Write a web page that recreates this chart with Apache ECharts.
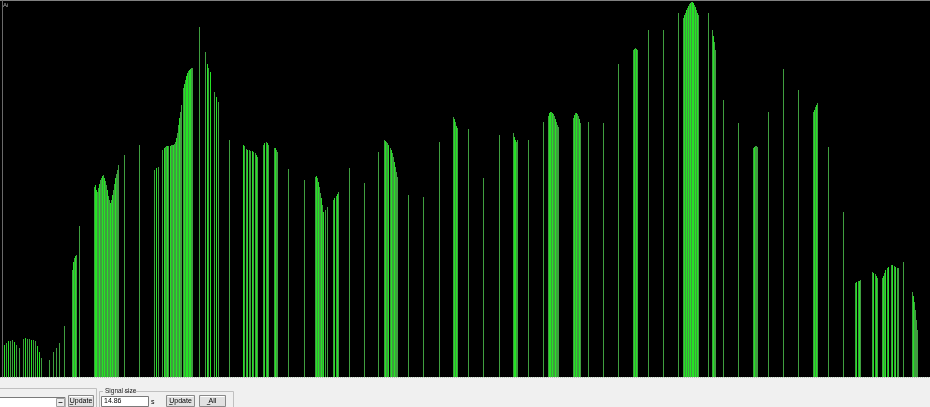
<!DOCTYPE html>
<html>
<head>
<meta charset="utf-8">
<script src="https://cdn.jsdelivr.net/npm/echarts@6/dist/echarts.min.js"></script>
<style>
html,body{margin:0;padding:0;background:#f0f0f0;}
#chart{width:930px;height:407px;}
</style>
</head>
<body>
<div id="chart"></div>
<script>
// Bright signal lines: sample positions and amplitudes
const brightX = [4,8,14,25,31,37,39,73,75,95,96,99,102,104,107,110,112,115,156,164,167,170,173,176,179,184,186,187,189,190,207,210,216,243,247,252,256,264,267,275,316,318,321,323,334,337,385,388,391,394,454,456,514,515,549,550,552,555,574,576,579,634,636,684,686,688,690,692,693,695,697,713,754,814,816,856,859,873,876,883,885,888,892,895,913];
const brightH = [32,36,35,39,37,31,25,115,121,192,187,193,201,199,187,174,182,199,209,229,231,231,232,239,259,293,301,304,307,308,313,305,280,232,227,226,222,234,234,229,201,195,179,165,179,183,236,232,227,215,258,251,240,237,264,265,264,258,262,264,258,328,328,362,367,371,374,375,374,370,364,341,230,267,272,95,96,104,101,101,107,110,112,110,81];
// Dim signal lines
const dimX = [2,6,10,12,16,19,23,27,29,33,35,41,49,53,56,59,64,72,74,76,79,94,97,98,100,101,103,105,106,108,109,111,113,114,116,117,118,124,139,154,158,162,165,166,168,171,172,174,175,177,178,180,181,183,185,188,191,192,199,205,208,214,218,229,244,246,249,250,253,255,257,263,266,268,274,276,277,288,304,315,317,319,320,322,325,327,333,336,338,349,364,378,384,386,387,390,392,393,395,396,397,408,423,439,453,455,457,468,483,499,513,516,517,528,543,548,551,553,554,556,557,558,573,575,577,578,580,588,603,618,633,635,637,648,663,678,683,685,687,689,691,694,696,698,708,712,714,715,723,738,753,755,756,757,768,783,798,813,815,817,828,843,855,858,860,872,875,877,882,884,887,891,894,897,898,903,912,914,915,916,917];
const dimH = [30,34,36,37,32,29,38,38,38,37,36,19,17,25,29,34,51,107,119,122,151,190,185,189,197,199,202,196,192,181,177,177,187,193,203,207,212,222,232,207,210,227,230,231,231,232,232,233,235,244,252,265,272,289,297,306,309,309,350,325,309,285,275,237,231,228,227,226,225,224,220,232,235,232,229,227,225,208,197,200,199,190,184,172,167,170,177,181,185,209,194,225,237,235,234,229,224,220,210,205,200,182,180,235,260,255,249,248,199,242,244,235,237,237,255,261,265,263,261,255,252,250,259,264,263,261,254,255,254,313,327,329,327,347,347,364,359,364,369,373,375,372,367,362,364,347,335,327,277,254,229,231,231,230,265,308,287,265,270,274,230,165,94,96,97,105,103,99,99,104,109,112,111,109,109,115,85,75,67,57,47];

const signalSize = '14.86';

function pairs(xs, hs){ return xs.map((x,i)=>[x, hs[i]]); }
function lineRenderer(color){
  return function(params, api){
    const x = api.value(0), h = api.value(1);
    const top = api.coord([x, h]);
    const bot = api.coord([x, 0]);
    return {type:'rect', shape:{x: top[0]-0.5, y: top[1], width: 1, height: bot[1]-top[1]}, style:{fill: color}};
  };
}

const chart = echarts.init(document.getElementById('chart'), null, {renderer:'canvas'});
const font = 'Liberation Sans, Arial, sans-serif';
function button(x, y, w, h, label){
  return [
    {type:'rect', shape:{x:x, y:y, width:w, height:h}, style:{fill:'#e1e1e1', stroke:'#8a8a8a', lineWidth:1}, z:10},
    {type:'line', shape:{x1:x+1, y1:y+1, x2:x+w-1, y2:y+1}, style:{stroke:'#ffffff'}, z:11},
    {type:'text', x:x+w/2, y:y+h/2, style:{text:label, fill:'#000', font:'7px '+font, align:'center', verticalAlign:'middle'}, z:12},
    {type:'line', shape:{x1:x+w/2-label.length*1.9, y1:y+h/2+3.5, x2:x+w/2-label.length*1.9+3.5, y2:y+h/2+3.5}, style:{stroke:'#000', lineWidth:0.6}, z:12}
  ];
}
const graphics = [
  {type:'rect', shape:{x:0, y:378, width:930, height:29}, style:{fill:'#f0f0f0'}, z:5},
  {type:'line', shape:{x1:0, y1:377.5, x2:930, y2:377.5}, style:{stroke:'#b8c8b8', lineWidth:1, lineDash:[1,1]}, z:6},
  {type:'line', shape:{x1:0, y1:0.5, x2:930, y2:0.5}, style:{stroke:'#808080', lineWidth:1}, z:6},
  {type:'line', shape:{x1:2.5, y1:0, x2:2.5, y2:377}, style:{stroke:'#6a6a6a', lineWidth:1}, z:6},
  {type:'text', x:3, y:2, style:{text:'Ai', fill:'#b0b0b0', font:'6px '+font}, z:6},
  // left group frame
  {type:'polyline', shape:{points:[[0,388.5],[96.5,388.5],[96.5,407]]}, style:{stroke:'#c0c0c0', fill:null, lineWidth:1}, z:6},
  // combo box
  {type:'rect', shape:{x:-1, y:397.5, width:66, height:11}, style:{fill:'#ffffff', stroke:'#7a7a7a', lineWidth:1}, z:7},
  {type:'rect', shape:{x:56.5, y:398.5, width:8, height:8}, style:{fill:'#ececec', stroke:'#a0a0a0', lineWidth:1}, z:8},
  {type:'line', shape:{x1:58.5, y1:402.5, x2:62.5, y2:402.5}, style:{stroke:'#404040', lineWidth:1}, z:9},
  // signal size group
  {type:'polyline', shape:{points:[[103,391.5],[99.5,391.5],[99.5,407]]}, style:{stroke:'#c0c0c0', fill:null, lineWidth:1}, z:6},
  {type:'polyline', shape:{points:[[124,391.5],[233.5,391.5],[233.5,407]]}, style:{stroke:'#c0c0c0', fill:null, lineWidth:1}, z:6},
  {type:'text', x:105, y:388, style:{text:'Signal size', fill:'#202020', font:'6.5px '+font}, z:7},
  {type:'rect', shape:{x:101.5, y:396.5, width:47, height:10}, style:{fill:'#ffffff', stroke:'#7a7a7a', lineWidth:1}, z:7},
  {type:'text', x:104, y:398, style:{text:signalSize, fill:'#000', font:'7px '+font}, z:8},
  {type:'text', x:151, y:399, style:{text:'s', fill:'#000', font:'7px '+font}, z:8}
].concat(button(68.5, 395.5, 25, 11, 'Update'), button(166.5, 395.5, 28, 11, 'Update'), button(199.5, 395.5, 26, 11, 'All'));

chart.setOption({
  animation: false,
  backgroundColor: '#f0f0f0',
  grid: {left: 0, top: 0, width: 930, height: 377, show: true, backgroundColor: '#000000', borderWidth: 0},
  xAxis: {type: 'value', min: -0.5, max: 929.5, show: false},
  yAxis: {type: 'value', min: 0, max: 377, show: false},
  graphic: graphics,
  series: [
    {type: 'custom', name: 'dim', renderItem: lineRenderer('#3f9e3f'), data: pairs(dimX, dimH), clip: true},
    {type: 'custom', name: 'bright', renderItem: lineRenderer('#24e424'), data: pairs(brightX, brightH), clip: true}
  ]
});
</script>
</body>
</html>
